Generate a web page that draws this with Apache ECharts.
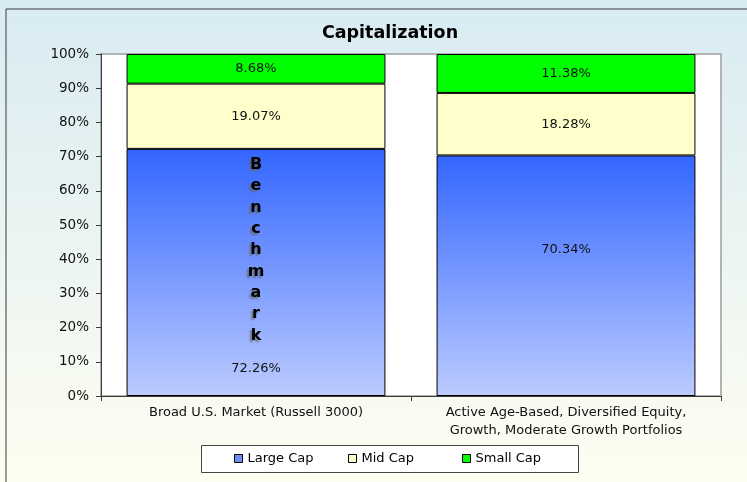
<!DOCTYPE html>
<html>
<head>
<meta charset="utf-8">
<script src="https://cdn.jsdelivr.net/npm/echarts@6/dist/echarts.min.js"></script>
<style>
  html, body { margin: 0; padding: 0; }
  #chart { width: 747px; height: 482px; }
</style>
</head>
<body>
<div id="chart"></div>
<script>
// Portfolio capitalization mix (percent of holdings)
const categories = [
  'Broad U.S. Market (Russell 3000)',
  'Active Age-Based, Diversified Equity,\nGrowth, Moderate Growth Portfolios'
];
const seriesNames = ['Large Cap', 'Mid Cap', 'Small Cap'];
const largeCap = [72.26, 70.34];
const midCap = [19.07, 18.28];
const smallCap = [8.68, 11.38];
const benchmarkWord = 'Benchmark';

const FONT = '"DejaVu Sans", sans-serif';
const swatchColors = ['#6e8ef6', '#ffffcc', '#00ff00'];

const chart = echarts.init(document.getElementById('chart'));

const pct = v => v.toFixed(2) + '%';

// Stacked letters of the benchmark tag followed by the bar's own value
function benchmarkLabel(value) {
  const letters = benchmarkWord.split('').map(ch => '{b|' + ch + '}').join('\n');
  return letters + '\n{v|' + pct(value) + '}';
}

const largeData = largeCap.map((v, i) => {
  if (i === 0) {
    return {
      value: v,
      label: {
        position: 'insideBottom',
        distance: 5,
        formatter: p => benchmarkLabel(p.value),
        rich: {
          b: {
            fontFamily: FONT,
            fontWeight: 'bold',
            fontSize: 16,
            color: '#000',
            lineHeight: 21.3,
            align: 'center',
            textShadowColor: 'rgba(100,100,100,0.8)',
            textShadowOffsetX: -2,
            textShadowOffsetY: 2,
            textShadowBlur: 2
          },
          v: {
            fontFamily: FONT,
            fontSize: 13,
            color: '#111',
            lineHeight: 45,
            align: 'center'
          }
        }
      }
    };
  }
  // the second bar carries its label a little above centre
  return {
    value: v,
    label: { position: ['50%', '39%'], align: 'center', verticalAlign: 'middle' }
  };
});

const barBorder = { borderColor: '#000', borderWidth: 1 };
const valueLabel = {
  show: true,
  position: 'inside',
  fontFamily: FONT,
  fontSize: 13,
  color: '#111',
  formatter: p => pct(p.value)
};

// Legend entries sit in evenly spaced columns inside one framed box
const legendBox = { x: 201, y: 445, w: 377, h: 27 };
const legendColumns = [234, 348, 462];
const legends = seriesNames.map((name, i) => ({
  left: legendColumns[i],
  top: legendBox.y + 7,
  padding: 0,
  itemWidth: 8,
  itemHeight: 8,
  textStyle: { fontFamily: FONT, fontSize: 13, color: '#000' },
  data: [{
    name: name,
    icon: 'rect',
    itemStyle: { color: swatchColors[i], borderColor: '#000', borderWidth: 1 }
  }]
}));

chart.setOption({
  animation: false,
  backgroundColor: {
    type: 'linear', x: 0, y: 0, x2: 0, y2: 1,
    colorStops: [
      { offset: 0, color: '#d8ebf3' },
      { offset: 1, color: '#fefef1' }
    ]
  },
  graphic: [
    {
      type: 'rect',
      shape: { x: 6, y: 9, width: 800, height: 520 },
      style: { fill: 'none', stroke: '#3a3a3a', lineWidth: 1 },
      silent: true,
      z: 0
    },
    {
      type: 'rect',
      shape: { x: legendBox.x + 0.5, y: legendBox.y + 0.5, width: legendBox.w, height: legendBox.h },
      style: { fill: '#fff', stroke: '#444', lineWidth: 1 },
      silent: true,
      z: 1
    }
  ],
  title: {
    text: 'Capitalization',
    left: 385,
    top: 19,
    textAlign: 'center',
    textStyle: { fontFamily: FONT, fontSize: 17.5, fontWeight: 'bold', color: '#000' }
  },
  legend: legends,
  grid: {
    left: 101,
    top: 54,
    right: 26,
    bottom: 86,
    show: true,
    backgroundColor: '#fff',
    borderColor: '#b4b4b4',
    borderWidth: 2
  },
  xAxis: {
    type: 'category',
    data: categories,
    axisLine: { lineStyle: { color: '#3c3c3c', width: 1 } },
    axisTick: { show: true, length: 5, lineStyle: { color: '#3c3c3c' } },
    axisLabel: {
      interval: 0,
      fontFamily: FONT,
      fontSize: 13,
      color: '#111',
      margin: 8,
      lineHeight: 18
    }
  },
  yAxis: {
    type: 'value',
    min: 0,
    max: 100,
    interval: 10,
    axisLine: { show: true, lineStyle: { color: '#3c3c3c', width: 1 } },
    axisTick: { show: true, length: 5, lineStyle: { color: '#3c3c3c' } },
    splitLine: { show: false },
    axisLabel: {
      fontFamily: FONT,
      fontSize: 13.5,
      color: '#111',
      margin: 12,
      formatter: '{value}%'
    }
  },
  series: [
    {
      name: seriesNames[0],
      type: 'bar',
      stack: 'cap',
      barWidth: '83.5%',
      itemStyle: Object.assign({
        color: {
          type: 'linear', x: 0, y: 0, x2: 0, y2: 1,
          colorStops: [
            { offset: 0, color: '#3366ff' },
            { offset: 1, color: '#bccbff' }
          ]
        }
      }, barBorder),
      label: valueLabel,
      data: largeData
    },
    {
      name: seriesNames[1],
      type: 'bar',
      stack: 'cap',
      itemStyle: Object.assign({ color: '#ffffcc' }, barBorder),
      label: valueLabel,
      data: midCap
    },
    {
      name: seriesNames[2],
      type: 'bar',
      stack: 'cap',
      itemStyle: Object.assign({ color: '#00ff00' }, barBorder),
      label: valueLabel,
      data: smallCap
    }
  ]
});
</script>
</body>
</html>
